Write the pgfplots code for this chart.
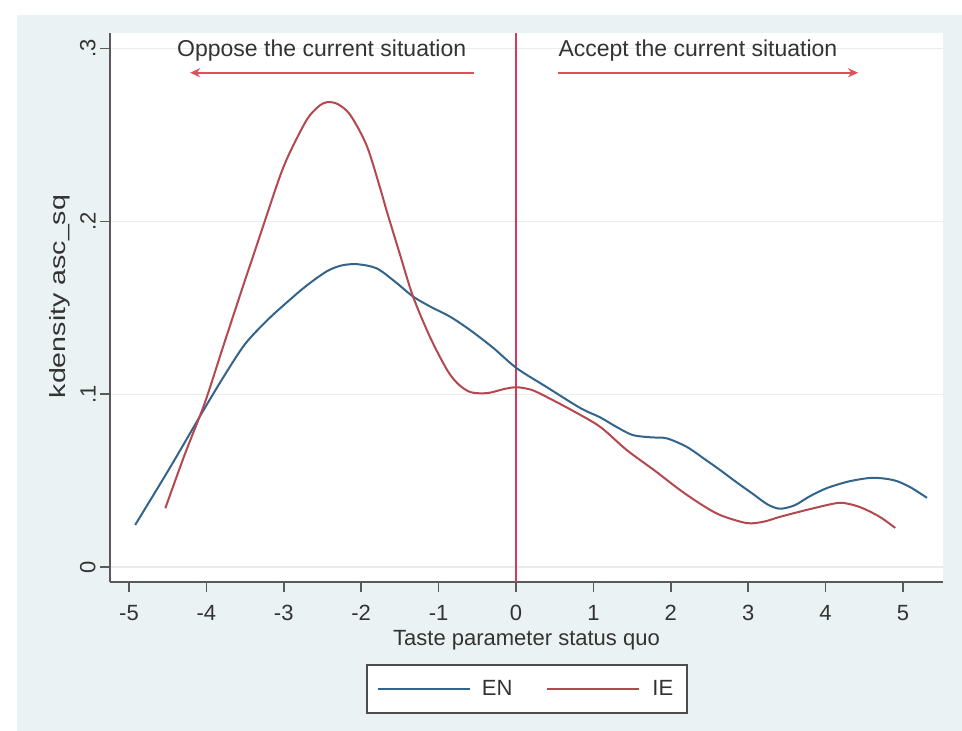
\documentclass[border=0pt]{standalone}
\usepackage{fontspec}
\setmainfont{Liberation Sans}
\usepackage{pgfplots}
\pgfplotsset{compat=1.18}
\usetikzlibrary{arrows.meta}
\definecolor{bgc}{HTML}{EAF2F3}
\definecolor{enc}{HTML}{33648A}
\definecolor{iec}{HTML}{B5474F}
\definecolor{vlc}{HTML}{D23C5A}
\definecolor{arc}{HTML}{E0505A}
\definecolor{txc}{HTML}{333333}
\pgfplotstableread{
x y
-4.92 0.0243
-4.47 0.0575
-4.02 0.0920
-3.75 0.1120
-3.50 0.1290
-3.22 0.1425
-2.95 0.1535
-2.70 0.1630
-2.44 0.1712
-2.25 0.1745
-2.05 0.1752
-1.80 0.1728
-1.56 0.1650
-1.33 0.1565
-1.10 0.1505
-0.85 0.1448
-0.59 0.1370
-0.30 0.1270
0.01 0.1150
0.40 0.1040
0.83 0.0920
1.09 0.0865
1.30 0.0810
1.51 0.0763
1.75 0.0750
1.95 0.0744
2.21 0.0694
2.45 0.0620
2.64 0.0560
2.85 0.0490
3.06 0.0423
3.25 0.0362
3.41 0.0337
3.60 0.0357
3.80 0.0410
4.02 0.0457
4.30 0.0495
4.57 0.0515
4.75 0.0512
4.92 0.0497
5.10 0.0460
5.31 0.0400
}\ENdata
\pgfplotstableread{
x y
-4.53 0.0340
-4.28 0.0650
-4.02 0.0950
-3.78 0.1280
-3.53 0.1620
-3.35 0.1860
-3.22 0.2035
-3.05 0.2260
-2.92 0.2400
-2.70 0.2590
-2.55 0.2665
-2.44 0.2690
-2.30 0.2678
-2.14 0.2615
-1.93 0.2440
-1.76 0.2200
-1.67 0.2060
-1.50 0.1810
-1.33 0.1565
-1.11 0.1330
-0.89 0.1140
-0.75 0.1060
-0.59 0.1012
-0.37 0.1006
-0.15 0.1030
0.01 0.1040
0.20 0.1025
0.40 0.0983
0.75 0.0900
1.09 0.0810
1.43 0.0677
1.80 0.0555
2.12 0.0445
2.40 0.0360
2.64 0.0300
2.98 0.0254
3.20 0.0262
3.41 0.0290
3.80 0.0335
4.15 0.0370
4.30 0.0365
4.48 0.0340
4.70 0.0290
4.90 0.0226
}\IEdata
\begin{document}
\begin{tikzpicture}
\fill[white] (0,0) rectangle (481pt,365.5pt);
\fill[bgc] (8.5pt,0) rectangle (481pt,358pt);
\begin{axis}[
  at={(55pt,74.5pt)}, anchor=south west,
  scale only axis, width=416.5pt, height=274.5pt,
  xmin=-5.245, xmax=5.517, ymin=-0.0087, ymax=0.309,
  axis background/.style={fill=white},
  axis lines=left,
  axis line style={-, black!65, line width=0.9pt},
  tick align=outside, major tick length=5pt,
  tick style={black!65, line width=0.8pt},
  xtick={-5,-4,-3,-2,-1,0,1,2,3,4,5},
  xticklabels={-5,-4,-3,-2,-1,0,1,2,3,4,5},
  ytick={0,0.1,0.2,0.3},
  yticklabels={0,.1,.2,.3},
  /pgf/number format/assume math mode=true,
  ymajorgrids, major grid style={black!8, line width=0.6pt},
  ticklabel style={font=\fontsize{11}{13}\selectfont, text=txc},
  xticklabel style={yshift=-3pt},
  yticklabel style={rotate=90, anchor=south, inner sep=2pt},
  xlabel={Taste parameter status quo},
  xlabel style={at={(axis description cs:0.5,-0.1056)}, anchor=center, font=\fontsize{11}{13}\selectfont, text=txc},
  ylabel={\scalebox{1.3}[1]{kdensity asc\_sq}},
  ylabel style={at={(axis description cs:-0.060,0.52)}, anchor=center, font=\fontsize{11}{13}\selectfont, text=txc},
  legend columns=2,
  legend image code/.code={\draw[#1] (0pt,0pt) -- (46pt,0pt);},
  legend style={at={(axis description cs:0.5006,-0.195)}, anchor=center,
    draw=black!70, line width=0.8pt, fill=white,
    font=\fontsize{11}{13}\selectfont, text=txc,
    inner xsep=5pt, inner ysep=5.5pt,
    /tikz/every even column/.append style={column sep=15pt}},
]
\draw[vlc, line width=0.8pt] (axis cs:0,-0.0087) -- (axis cs:0,0.309);
\addplot[enc, line width=1pt, smooth, tension=0.5] table[x=x,y=y] {\ENdata};
\addlegendentry{\hspace{3.5pt}EN}
\addplot[iec, line width=1pt, smooth, tension=0.5] table[x=x,y=y] {\IEdata};
\addlegendentry{\hspace{4pt}IE}
\draw[arc, line width=1pt, -{Stealth[length=5pt,width=4.5pt]}] (axis cs:-0.54,0.286) -- (axis cs:-4.21,0.286);
\draw[arc, line width=1pt, -{Stealth[length=5pt,width=4.5pt]}] (axis cs:0.54,0.286) -- (axis cs:4.42,0.286);
\node[font=\fontsize{11.5}{13}\selectfont, text=txc] at (axis cs:-2.51,0.299) {Oppose the current situation};
\node[font=\fontsize{11.5}{13}\selectfont, text=txc] at (axis cs:2.35,0.299) {Accept the current situation};
\end{axis}
\end{tikzpicture}
\end{document}
